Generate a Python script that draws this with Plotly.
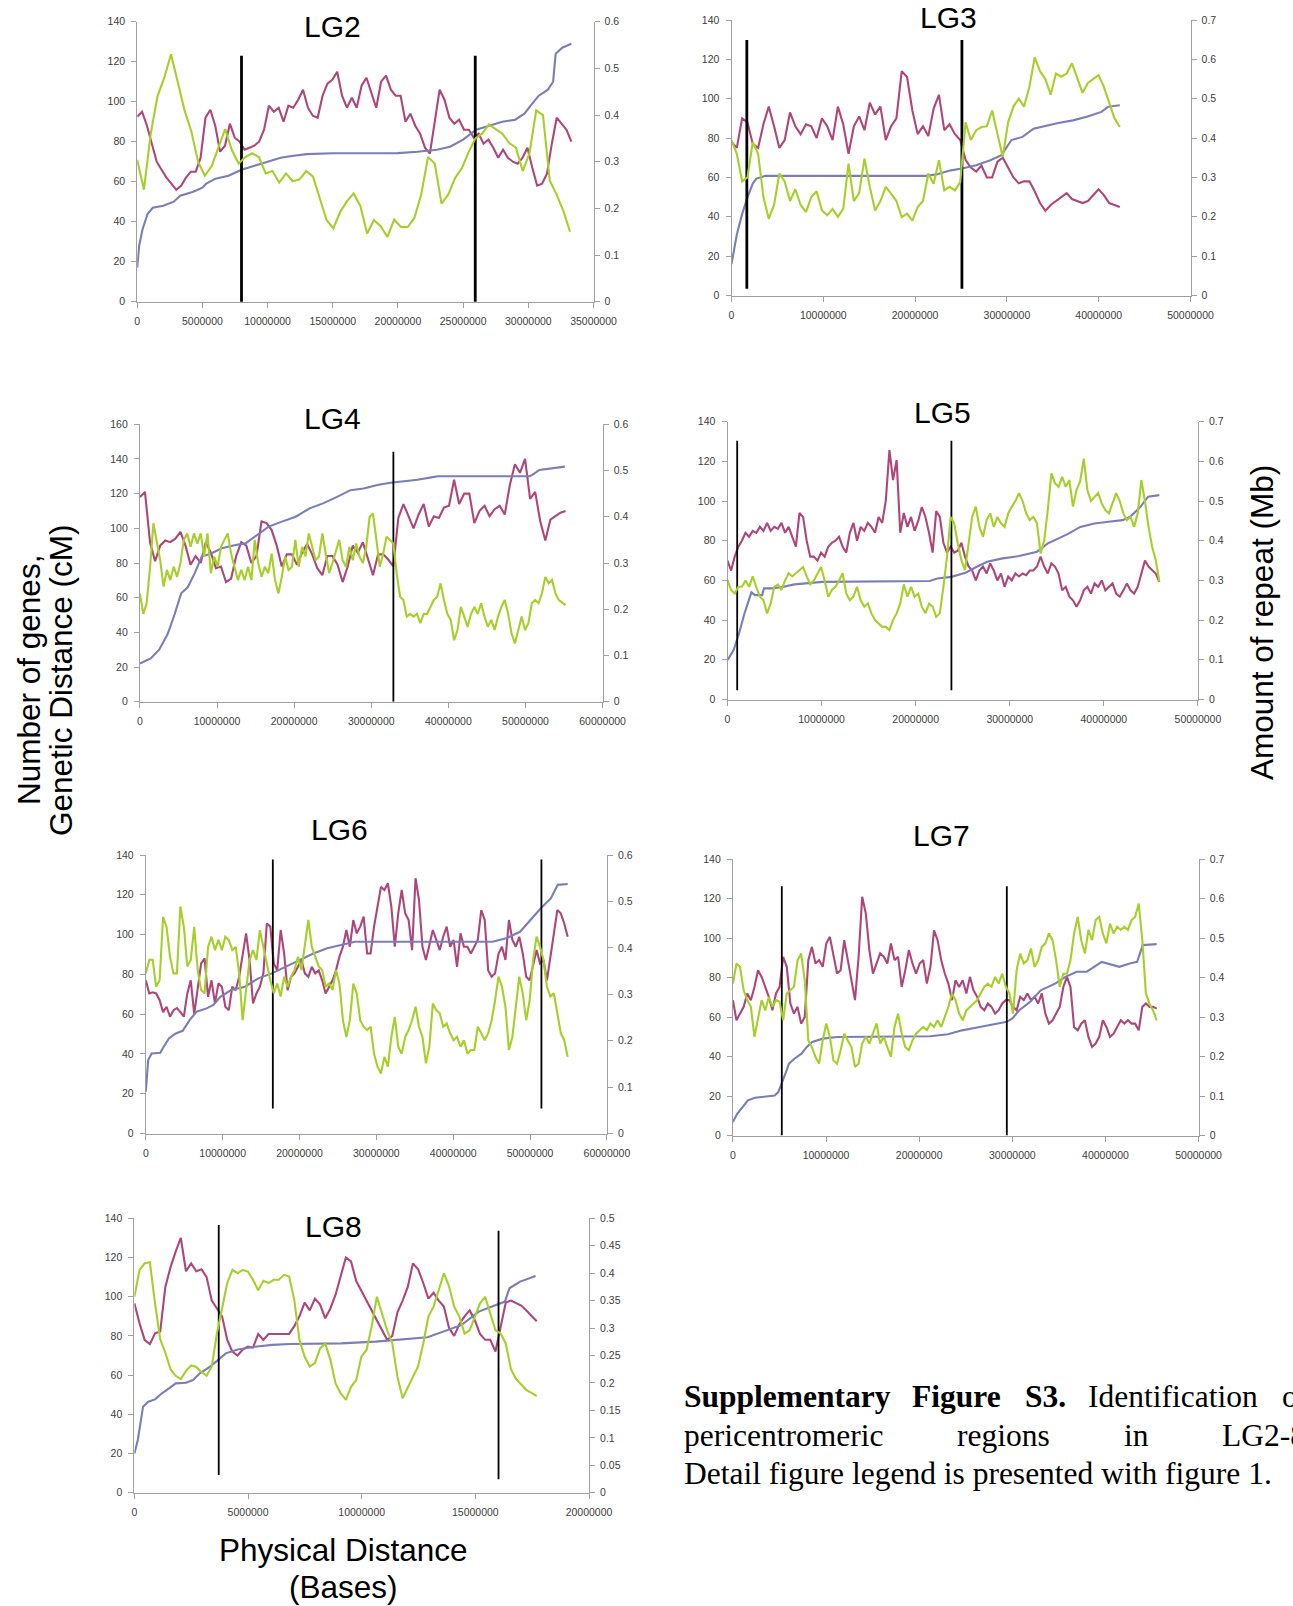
import numpy as np
import plotly.graph_objects as go

W, H = 1293, 1606

# ------------------------------------------------------------------ DATA
# Genetic distance (cM) vs physical position (Mb) - explicit pairs
LG2_GD_X = [0, 0.15, 0.4, 0.8, 1.2, 2, 2.8, 3.3, 4.3, 5, 5.3, 6, 7, 8, 9, 10, 11, 12, 13, 15, 20, 21.5, 23, 24, 25, 26, 27, 28, 29, 29.7, 30.3, 30.8, 31.5, 31.9, 32.1, 32.6, 33.3]
LG2_GD_Y = [17, 28, 36, 44, 47, 48, 50, 53, 55, 57, 59, 61.5, 63, 66, 68, 70, 72, 73, 73.8, 74.2, 74.3, 75, 76, 77.5, 81, 86, 88, 90, 91, 94, 99, 103, 106, 110, 124, 127, 129]
LG3_GD_X = [0, 0.58, 1.17, 1.75, 2.33, 2.72, 3.7, 21.2, 22.4, 23.9, 25.1, 26.65, 28.2, 29.4, 30.5, 31.7, 32.9, 34.0, 35.6, 37.2, 38.7, 40.3, 41.05, 42.3]
LG3_GD_Y = [16, 31, 41.6, 50, 57, 59.4, 60.8, 60.8, 61.6, 63.6, 64.5, 66.2, 68.7, 71.3, 79, 80.6, 84.8, 86, 87.7, 89, 90.8, 93.3, 95.9, 96.7]
LG4_GD_X = [0, 1.4, 2.5, 3.6, 4.47, 5.35, 6.2, 7.1, 8.0, 9.3, 10.6, 12.4, 13.7, 14.9, 16.7, 18.5, 20.2, 22.0, 23.75, 25.5, 27.3, 29.0, 30.8, 32.5, 34.3, 36.0, 37.8, 38.65, 50.5, 50.9, 51.8, 53.5, 55.1]
LG4_GD_Y = [22, 25, 30, 39, 50, 62.5, 66, 74, 83.6, 85.6, 88.5, 90.4, 91.3, 95, 101, 104, 106.7, 111.5, 114.4, 118, 122, 123, 125, 126.3, 127, 128, 129.4, 130, 130, 130.8, 133.7, 134.6, 135.6]
LG5_GD_X = [0, 0.65, 1.21, 1.78, 2.54, 2.92, 3.68, 3.87, 4.82, 5.96, 7.1, 10.1, 21.5, 22.3, 23.8, 25.3, 26.5, 27.6, 29.1, 31.0, 32.9, 34.05, 35.2, 36.3, 37.5, 39.0, 40.5, 42.0, 42.8, 43.9, 44.7, 45.9]
LG5_GD_Y = [19.8, 24.9, 33, 43, 54, 52.6, 52.6, 56, 56, 56.8, 58, 59.3, 59.7, 61, 61.8, 63.9, 66.9, 69.4, 71, 72.3, 74.5, 78.7, 81.2, 83.7, 87, 88.7, 89.6, 90.4, 92.1, 97.1, 102.2, 103]
LG6_GD_X = [0, 0.31, 0.76, 1.88, 2.33, 3.0, 3.9, 4.8, 5.7, 6.6, 7.9, 8.8, 9.7, 11.1, 12.9, 14.65, 16.4, 18.2, 20.0, 21.8, 23.6, 25.4, 27.2, 45.1, 46.9, 48.7, 50.0, 51.4, 52.7, 53.6, 54.9]
LG6_GD_Y = [21, 36.9, 40.2, 40.6, 43.6, 47.8, 50.3, 51.6, 57, 61.2, 62.9, 64.6, 68.7, 72.1, 73.8, 78, 80.5, 83.8, 87.2, 90.5, 93.1, 94.7, 96.4, 96.4, 98.1, 101.4, 107.3, 113.2, 118.2, 125, 125.4]
LG7_GD_X = [0, 0.46, 1.04, 1.61, 2.38, 3.53, 4.49, 4.87, 5.25, 5.64, 6.02, 6.6, 7.36, 7.94, 8.51, 9.66, 11.2, 21.2, 23.1, 24.6, 26.5, 28.1, 29.4, 30.0, 30.75, 31.9, 33.05, 34.6, 35.7, 36.9, 38.0, 39.6, 40.3, 41.5, 42.6, 43.4, 44.0, 45.5]
LG7_GD_Y = [6.8, 11, 14.4, 17.8, 19.1, 19.8, 20.3, 22, 26.2, 31.3, 36.4, 38.9, 41.5, 44.9, 47.4, 49.1, 49.9, 50.3, 51.3, 53.3, 55, 56.4, 57.6, 59.3, 63.5, 67.7, 73.6, 77, 80.4, 83, 83, 88, 87.2, 85.5, 87.2, 88, 96.5, 97]
LG8_GD_X = [0, 0.15, 0.38, 0.61, 0.91, 1.21, 1.52, 1.82, 2.27, 2.58, 2.88, 3.33, 3.71, 4.02, 4.55, 5.3, 6.06, 6.82, 9.09, 10.6, 12.9, 13.6, 14.4, 15.15, 15.9, 16.3, 16.5, 16.97, 17.65]
LG8_GD_Y = [20, 26.9, 43.9, 46.4, 47.6, 50.7, 53.2, 55.8, 56.1, 57.5, 60.9, 64.3, 68, 71.1, 73.1, 74.5, 75.4, 75.9, 76.2, 77.1, 79.3, 82.2, 85.6, 92.4, 95.8, 97.5, 104.3, 107.7, 110.6]

# Number of genes (left axis), regularly spaced windows from 0 to *_END Mb
LG2_GENES = [92.5, 95, 88, 79, 70, 66, 62, 59, 56, 58, 62, 65, 65, 72, 92, 96, 88, 75, 78, 89, 82, 80, 76, 77, 78, 80, 86, 98, 95, 97, 90, 98, 97, 101, 106, 97, 93, 92, 103, 109, 111, 115, 103, 97, 102, 97, 108, 112, 104, 97, 110, 113, 106, 103, 103, 90, 94, 88, 84, 77, 74, 91, 106, 101, 92, 89, 91, 86, 86, 82, 84, 79, 81, 77, 72, 76, 72, 70, 69, 72, 77, 67, 58, 59, 64, 79, 92, 89, 86, 80]
LG2_GENES_END = 33.3
LG3_GENES = [78, 75, 90, 88, 77, 75, 87, 96, 86, 75, 79, 93, 86, 82, 87, 86, 80, 90, 86, 79, 96, 87, 72, 86, 91, 84, 98, 92, 96, 79, 86, 90, 114, 111, 94, 82, 86, 81, 95, 102, 84, 87, 82, 79, 69, 65, 63, 66, 60, 60, 68, 70, 65, 60, 57, 58, 58, 53, 47, 43, 46, 48, 50, 52, 49, 48, 47, 48, 51, 54, 51, 47, 46, 45]
LG3_GENES_END = 42.3
LG4_GENES = [118, 121, 92, 81, 90, 93, 92, 94, 98, 90, 79, 84, 80, 92, 86, 77, 78, 69, 71, 84, 92, 90, 80, 84, 104, 103, 99, 90, 78, 85, 85, 79, 86, 91, 85, 77, 73, 84, 84, 79, 69, 78, 90, 86, 92, 82, 73, 85, 85, 82, 78, 106, 114, 107, 100, 108, 114, 101, 107, 106, 112, 113, 128, 114, 120, 120, 103, 110, 113, 107, 111, 113, 108, 125, 137, 132, 140, 117, 121, 104, 93, 105, 107, 109, 110]
LG4_GENES_END = 55.2
LG5_GENES = [70, 65, 72, 77, 80, 84, 82, 85, 84, 87, 85, 89, 85, 87, 86, 89, 84, 87, 82, 77, 94, 92, 80, 72, 72, 70, 74, 72, 77, 79, 80, 82, 77, 74, 84, 89, 80, 87, 85, 89, 87, 84, 92, 89, 100.5, 125.7, 110.6, 120.7, 84, 94, 87, 92, 85, 90, 97, 92, 84, 74, 95, 92, 79, 74, 77, 74, 75, 79, 72, 67, 65, 60, 65, 67, 63.5, 68.6, 65, 60, 63.5, 56.8, 62, 60, 63.5, 62, 63.5, 62.7, 65, 65, 67, 72, 67, 63.5, 68.6, 67, 63.5, 55, 56.8, 51.8, 50, 46.7, 50, 55, 56.8, 53.4, 58.5, 56.8, 60, 55, 56.8, 58.5, 53.4, 51.8, 55, 58.5, 55, 53.4, 56.8, 63.5, 70, 67, 65, 63.5, 59.3]
LG5_GENES_END = 45.9
LG6_GENES = [77, 70.4, 71, 70.4, 67, 61, 63.7, 58.7, 62, 63, 61, 58.7, 70.4, 77, 60, 72, 85.5, 88, 68.7, 77, 65.4, 75.5, 73.8, 63.7, 62, 73.8, 72, 78.8, 90.5, 100.6, 87.2, 65.4, 70.4, 73.8, 80.5, 105.6, 104, 85.5, 82, 102.3, 90.5, 72, 78.8, 80.5, 83.8, 87.2, 80.5, 78.8, 83.8, 80.5, 82, 77, 70.4, 73.8, 77, 82, 88.9, 93.9, 102.3, 93.9, 107.3, 100.6, 104, 109, 90.5, 90.5, 104, 114, 124, 122.4, 125.8, 114, 93.9, 110.7, 122.4, 110.7, 107.3, 92.2, 128.3, 117.4, 93.9, 87.2, 95.6, 102.3, 97.3, 92.2, 98.9, 104, 93.9, 97.3, 83.8, 100.6, 93.9, 93.9, 90.5, 93.9, 97.3, 112.3, 107.3, 82, 78.8, 80.5, 90.5, 93.9, 87.2, 107.3, 97.3, 93.9, 98.9, 90.5, 78.8, 77, 85.5, 92.2, 85.5, 87.2, 77, 88.9, 102.3, 112.3, 110.7, 105.6, 98.9]
LG6_GENES_END = 54.9
LG7_GENES = [68.6, 58.4, 61.8, 65.2, 72, 68.6, 75.3, 83.8, 80.4, 75.3, 70.3, 63.5, 72, 75.3, 90.6, 85.5, 66.9, 61.8, 65.2, 56.7, 60, 88.9, 95.6, 87.2, 88.9, 85.5, 97.3, 100.7, 92.3, 82.1, 83.8, 99, 88.9, 78.7, 68.6, 90.6, 121, 112.6, 94, 82.1, 87.2, 92.3, 90.6, 87.2, 97.3, 88.9, 90.6, 75.3, 83.8, 94, 87.2, 82.1, 87.2, 88.9, 77, 85.5, 104, 99, 88.9, 82.1, 77, 68.6, 78.7, 75.3, 78.7, 72, 80.4, 73.6, 70.3, 65.2, 63.5, 66.9, 65.2, 61.8, 63.5, 66.9, 68.6, 68.6, 65.2, 63.5, 70.3, 68.6, 72, 68.6, 70.3, 66.9, 72, 61.8, 56.7, 58.4, 61.8, 65.2, 75.3, 80.4, 75.3, 55, 53.3, 56.7, 58.4, 50, 44.9, 46.6, 50, 58.4, 55, 50, 51.6, 55, 58.4, 56.7, 58.4, 56.7, 56.7, 53.3, 65.2, 66.9, 65.2, 65.2, 64.3]
LG7_GENES_END = 45.5
LG8_GENES = [96.6, 86.4, 77.9, 75.8, 81.3, 82.2, 105, 115, 123, 130, 113, 117, 113, 114, 110, 98, 94, 90, 78, 72, 70, 73, 74.5, 74, 81, 78, 81, 81, 81, 81, 81, 85, 90, 97, 93, 99, 96, 89, 94, 101, 110, 120, 118, 108, 103, 98, 93, 88, 83, 78, 80, 92, 98, 105, 117, 114, 107, 99, 102, 98, 95, 84, 80, 86, 90, 93, 88, 81, 78, 78, 72, 84, 97, 98, 96.6, 95.5, 93, 90, 87.5]
LG8_GENES_END = 17.7

# Amount of repeat (Mb, right axis), regularly spaced windows from 0 to *_END Mb
LG2_REPEAT = [0.304, 0.24, 0.36, 0.44, 0.48, 0.53, 0.47, 0.41, 0.365, 0.30, 0.27, 0.29, 0.33, 0.37, 0.325, 0.296, 0.31, 0.318, 0.31, 0.275, 0.28, 0.255, 0.275, 0.258, 0.262, 0.28, 0.268, 0.22, 0.175, 0.157, 0.192, 0.215, 0.232, 0.205, 0.146, 0.175, 0.162, 0.139, 0.176, 0.16, 0.16, 0.18, 0.23, 0.31, 0.296, 0.21, 0.23, 0.265, 0.286, 0.32, 0.35, 0.36, 0.38, 0.37, 0.36, 0.34, 0.33, 0.28, 0.318, 0.41, 0.40, 0.26, 0.23, 0.195, 0.15]
LG2_REPEAT_END = 33.2
LG3_REPEAT = [0.395, 0.36, 0.29, 0.30, 0.39, 0.36, 0.25, 0.195, 0.23, 0.31, 0.29, 0.24, 0.27, 0.23, 0.212, 0.25, 0.265, 0.216, 0.204, 0.22, 0.20, 0.22, 0.335, 0.24, 0.26, 0.348, 0.276, 0.216, 0.24, 0.276, 0.259, 0.24, 0.199, 0.208, 0.19, 0.225, 0.24, 0.31, 0.284, 0.344, 0.267, 0.276, 0.267, 0.288, 0.44, 0.395, 0.42, 0.428, 0.43, 0.47, 0.41, 0.352, 0.44, 0.48, 0.50, 0.48, 0.53, 0.605, 0.57, 0.55, 0.51, 0.564, 0.556, 0.564, 0.59, 0.55, 0.515, 0.54, 0.55, 0.56, 0.53, 0.49, 0.45, 0.428]
LG3_REPEAT_END = 42.3
LG4_REPEAT = [0.234, 0.19, 0.213, 0.29, 0.386, 0.35, 0.306, 0.249, 0.285, 0.263, 0.292, 0.27, 0.30, 0.35, 0.364, 0.335, 0.364, 0.342, 0.364, 0.314, 0.364, 0.278, 0.314, 0.292, 0.335, 0.35, 0.364, 0.32, 0.292, 0.263, 0.285, 0.263, 0.292, 0.263, 0.35, 0.30, 0.27, 0.292, 0.278, 0.32, 0.263, 0.234, 0.27, 0.314, 0.285, 0.292, 0.35, 0.292, 0.335, 0.314, 0.364, 0.335, 0.306, 0.314, 0.364, 0.32, 0.278, 0.30, 0.328, 0.35, 0.306, 0.292, 0.335, 0.306, 0.342, 0.314, 0.30, 0.335, 0.40, 0.407, 0.35, 0.292, 0.32, 0.357, 0.35, 0.342, 0.278, 0.227, 0.22, 0.184, 0.19, 0.184, 0.19, 0.17, 0.19, 0.19, 0.205, 0.22, 0.227, 0.256, 0.22, 0.19, 0.177, 0.133, 0.155, 0.205, 0.184, 0.162, 0.19, 0.205, 0.19, 0.213, 0.184, 0.162, 0.177, 0.155, 0.184, 0.205, 0.22, 0.19, 0.148, 0.126, 0.155, 0.184, 0.155, 0.17, 0.213, 0.22, 0.213, 0.234, 0.27, 0.256, 0.263, 0.234, 0.22, 0.215, 0.209]
LG4_REPEAT_END = 55.2
LG5_REPEAT = [0.30, 0.276, 0.267, 0.284, 0.284, 0.30, 0.284, 0.31, 0.284, 0.259, 0.25, 0.217, 0.242, 0.284, 0.29, 0.276, 0.30, 0.318, 0.31, 0.318, 0.326, 0.334, 0.31, 0.29, 0.30, 0.318, 0.334, 0.30, 0.259, 0.276, 0.284, 0.30, 0.318, 0.267, 0.25, 0.259, 0.284, 0.25, 0.234, 0.242, 0.217, 0.20, 0.192, 0.183, 0.183, 0.175, 0.20, 0.217, 0.242, 0.29, 0.259, 0.284, 0.259, 0.267, 0.234, 0.217, 0.242, 0.234, 0.208, 0.217, 0.284, 0.36, 0.46, 0.444, 0.393, 0.351, 0.326, 0.40, 0.46, 0.486, 0.435, 0.41, 0.452, 0.469, 0.435, 0.46, 0.444, 0.435, 0.469, 0.486, 0.50, 0.52, 0.50, 0.469, 0.452, 0.46, 0.444, 0.368, 0.40, 0.477, 0.57, 0.545, 0.536, 0.561, 0.536, 0.553, 0.486, 0.528, 0.55, 0.607, 0.528, 0.50, 0.511, 0.52, 0.494, 0.477, 0.469, 0.494, 0.52, 0.50, 0.469, 0.452, 0.46, 0.435, 0.469, 0.553, 0.50, 0.435, 0.385, 0.351, 0.297]
LG5_REPEAT_END = 45.9
LG6_REPEAT = [0.345, 0.374, 0.374, 0.316, 0.33, 0.467, 0.445, 0.381, 0.345, 0.345, 0.489, 0.445, 0.36, 0.374, 0.445, 0.352, 0.309, 0.302, 0.402, 0.424, 0.395, 0.417, 0.395, 0.424, 0.417, 0.395, 0.402, 0.345, 0.244, 0.316, 0.374, 0.395, 0.374, 0.438, 0.402, 0.366, 0.33, 0.302, 0.323, 0.295, 0.338, 0.316, 0.338, 0.352, 0.381, 0.352, 0.402, 0.46, 0.402, 0.381, 0.36, 0.352, 0.316, 0.323, 0.309, 0.352, 0.323, 0.244, 0.208, 0.244, 0.323, 0.302, 0.244, 0.23, 0.223, 0.23, 0.172, 0.144, 0.129, 0.165, 0.144, 0.208, 0.251, 0.187, 0.172, 0.208, 0.223, 0.244, 0.273, 0.23, 0.208, 0.151, 0.187, 0.28, 0.266, 0.259, 0.23, 0.237, 0.216, 0.201, 0.208, 0.187, 0.201, 0.172, 0.18, 0.18, 0.23, 0.216, 0.201, 0.216, 0.244, 0.287, 0.338, 0.316, 0.273, 0.18, 0.208, 0.273, 0.338, 0.302, 0.244, 0.287, 0.374, 0.424, 0.402, 0.374, 0.316, 0.295, 0.302, 0.259, 0.216, 0.201, 0.165]
LG6_REPEAT_END = 54.9
LG7_REPEAT = [0.385, 0.436, 0.427, 0.368, 0.343, 0.326, 0.25, 0.30, 0.343, 0.317, 0.351, 0.326, 0.343, 0.339, 0.292, 0.36, 0.368, 0.377, 0.444, 0.461, 0.394, 0.241, 0.224, 0.199, 0.182, 0.241, 0.284, 0.25, 0.19, 0.182, 0.216, 0.258, 0.241, 0.224, 0.174, 0.182, 0.233, 0.25, 0.233, 0.258, 0.284, 0.233, 0.25, 0.224, 0.199, 0.275, 0.309, 0.258, 0.224, 0.216, 0.241, 0.258, 0.267, 0.275, 0.267, 0.284, 0.275, 0.292, 0.275, 0.30, 0.326, 0.36, 0.343, 0.309, 0.292, 0.317, 0.326, 0.334, 0.343, 0.36, 0.377, 0.385, 0.377, 0.402, 0.385, 0.41, 0.377, 0.36, 0.309, 0.419, 0.461, 0.436, 0.444, 0.474, 0.427, 0.444, 0.478, 0.487, 0.512, 0.495, 0.444, 0.377, 0.41, 0.41, 0.444, 0.512, 0.554, 0.495, 0.461, 0.521, 0.495, 0.546, 0.554, 0.512, 0.487, 0.537, 0.512, 0.529, 0.521, 0.529, 0.521, 0.546, 0.554, 0.588, 0.495, 0.36, 0.334, 0.317, 0.292]
LG7_REPEAT_END = 45.5
LG8_REPEAT = [0.357, 0.406, 0.418, 0.42, 0.345, 0.28, 0.255, 0.225, 0.213, 0.207, 0.222, 0.232, 0.229, 0.22, 0.213, 0.23, 0.29, 0.333, 0.382, 0.406, 0.40, 0.406, 0.403, 0.388, 0.369, 0.386, 0.382, 0.388, 0.388, 0.397, 0.394, 0.351, 0.278, 0.248, 0.23, 0.236, 0.263, 0.272, 0.242, 0.199, 0.181, 0.169, 0.193, 0.205, 0.248, 0.26, 0.303, 0.357, 0.327, 0.296, 0.272, 0.211, 0.172, 0.193, 0.211, 0.23, 0.272, 0.321, 0.339, 0.369, 0.40, 0.376, 0.339, 0.321, 0.29, 0.296, 0.321, 0.345, 0.357, 0.327, 0.296, 0.29, 0.272, 0.225, 0.207, 0.197, 0.187, 0.182, 0.176]
LG8_REPEAT_END = 17.7

# Pericentromeric boundaries (Mb) and the vertical extent of the marker lines (left-axis units)
LG2_BOUNDS = [8.0, 25.93]
LG2_BOUND_Y = [[-1, 123], [-1, 123]]
LG3_BOUNDS = [1.67, 25.1]
LG3_BOUND_Y = [[3.4, 129.8], [3.4, 129.8]]
LG4_BOUNDS = [32.87]
LG4_BOUND_Y = [[0, 144.2]]
LG5_BOUNDS = [1.03, 23.8]
LG5_BOUND_Y = [[4.7, 130.4], [4.7, 130.4]]
LG6_BOUNDS = [16.53, 51.48]
LG6_BOUND_Y = [[12.6, 137.8], [12.6, 137.8]]
LG7_BOUNDS = [5.25, 29.41]
LG7_BOUND_Y = [[0, 126.4], [0, 126.4]]
LG8_BOUNDS = [3.71, 16.02]
LG8_BOUND_Y = [[9, 136.6], [6.8, 133.7]]

PANEL_NAMES = ["LG2", "LG3", "LG4", "LG5", "LG6", "LG7", "LG8"]
CAPTION_L1 = ["Supplementary", "Figure", "S3.", "Identification", "of"]
CAPTION_L1_BOLD = [True, True, True, False, False]
CAPTION_L2 = ["pericentromeric", "regions", "in", "LG2-8"]
CAPTION_L3 = ["Detail figure legend is presented with figure 1."]
Y_LABEL_LEFT = ["Number of genes,", "Genetic Distance (cM)"]
Y_LABEL_RIGHT = "Amount of repeat (Mb)"
X_LABEL = ["Physical Distance", "(Bases)"]

# ------------------------------------------------------------------ LAYOUT / STYLE
C_GD = "#7B7DB8"
C_GENES = "#AE4679"
C_REP = "#A6CF2A"
AX = "#A0A0A0"
TICKFONT = dict(family="Liberation Sans, Arial, sans-serif", size=10.5, color="#404040")

panels = [
    dict(name=PANEL_NAMES[0], gd=(LG2_GD_X, LG2_GD_Y), genes=(LG2_GENES, LG2_GENES_END), rep=(LG2_REPEAT, LG2_REPEAT_END),
         bounds=(LG2_BOUNDS, LG2_BOUND_Y), xmax=35e6, dx=5e6, ymax=140, rmax=0.6, dr=0.1,
         box=(137.2, 593.5, 21.7, 301.7), title=(333, 27), bw=2.8),
    dict(name=PANEL_NAMES[1], gd=(LG3_GD_X, LG3_GD_Y), genes=(LG3_GENES, LG3_GENES_END), rep=(LG3_REPEAT, LG3_REPEAT_END),
         bounds=(LG3_BOUNDS, LG3_BOUND_Y), xmax=50e6, dx=10e6, ymax=140, rmax=0.7, dr=0.1,
         box=(731.5, 1190.5, 20, 295.5), title=(948, 17), bw=2.8),
    dict(name=PANEL_NAMES[2], gd=(LG4_GD_X, LG4_GD_Y), genes=(LG4_GENES, LG4_GENES_END), rep=(LG4_REPEAT, LG4_REPEAT_END),
         bounds=(LG4_BOUNDS, LG4_BOUND_Y), xmax=60e6, dx=10e6, ymax=160, rmax=0.6, dr=0.1,
         box=(139.9, 602.6, 424.3, 701.7), title=(333, 419), bw=1.8),
    dict(name=PANEL_NAMES[3], gd=(LG5_GD_X, LG5_GD_Y), genes=(LG5_GENES, LG5_GENES_END), rep=(LG5_REPEAT, LG5_REPEAT_END),
         bounds=(LG5_BOUNDS, LG5_BOUND_Y), xmax=50e6, dx=10e6, ymax=140, rmax=0.7, dr=0.1,
         box=(727.5, 1197.9, 421.7, 699.5), title=(942.5, 412), bw=1.8),
    dict(name=PANEL_NAMES[4], gd=(LG6_GD_X, LG6_GD_Y), genes=(LG6_GENES, LG6_GENES_END), rep=(LG6_REPEAT, LG6_REPEAT_END),
         bounds=(LG6_BOUNDS, LG6_BOUND_Y), xmax=60e6, dx=10e6, ymax=140, rmax=0.6, dr=0.1,
         box=(145.8, 606.9, 855, 1133.5), title=(339, 830), bw=1.8),
    dict(name=PANEL_NAMES[5], gd=(LG7_GD_X, LG7_GD_Y), genes=(LG7_GENES, LG7_GENES_END), rep=(LG7_REPEAT, LG7_REPEAT_END),
         bounds=(LG7_BOUNDS, LG7_BOUND_Y), xmax=50e6, dx=10e6, ymax=140, rmax=0.7, dr=0.1,
         box=(732.9, 1198.6, 859.3, 1135.5), title=(941, 835), bw=1.8),
    dict(name=PANEL_NAMES[6], gd=(LG8_GD_X, LG8_GD_Y), genes=(LG8_GENES, LG8_GENES_END), rep=(LG8_REPEAT, LG8_REPEAT_END),
         bounds=(LG8_BOUNDS, LG8_BOUND_Y), xmax=20e6, dx=5e6, ymax=140, rmax=0.5, dr=0.05,
         box=(134.4, 589.0, 1218.3, 1492.7), title=(333.5, 1226.5), bw=1.8),
]

MB = 1e6
fig = go.Figure()
layout = dict(width=W, height=H, autosize=False, margin=dict(l=0, r=0, t=0, b=0, pad=0),
              paper_bgcolor="white", plot_bgcolor="rgba(0,0,0,0)", showlegend=False)
annotations = []


def px_x(p):
    return p / W


def px_y(p):
    return 1 - p / H


for k, p in enumerate(panels, start=1):
    xa = f"x{k}" if k > 1 else "x"
    yl = f"y{2*k-1}" if (2 * k - 1) > 1 else "y"
    yr = f"y{2*k}"
    xkey = "xaxis" if k == 1 else f"xaxis{k}"
    ylkey = "yaxis" if (2 * k - 1) == 1 else f"yaxis{2*k-1}"
    yrkey = f"yaxis{2*k}"
    x0, x1, ytop, ybot = p["box"]
    xdom = [px_x(x0), px_x(x1)]
    ydom = [px_y(ybot), px_y(ytop)]
    common = dict(showline=True, linecolor=AX, linewidth=1, ticks="outside", ticklen=5,
                  tickcolor=AX, tickwidth=1, showgrid=False, zeroline=False, tickfont=TICKFONT,
                  fixedrange=True, automargin=False)
    layout[xkey] = dict(domain=xdom, anchor=yl, range=[0, p["xmax"]], tick0=0, dtick=p["dx"],
                        tickformat="d", ticklabelstandoff=5, **common)
    layout[ylkey] = dict(domain=ydom, anchor=xa, range=[0, p["ymax"]], tick0=0, dtick=20,
                         ticklabelstandoff=4, **common)
    layout[yrkey] = dict(domain=ydom, anchor=xa, overlaying=yl, side="right",
                         range=[0, p["rmax"]], tick0=0, dtick=p["dr"], tickformat="~g",
                         ticklabelstandoff=3, **common)

    gvals, gend = p["genes"]
    fig.add_trace(go.Scatter(x=np.linspace(0, gend, len(gvals)) * MB, y=gvals, mode="lines",
                             line=dict(color=C_GENES, width=2.1), xaxis=xa, yaxis=yl, hoverinfo="skip"))
    gx, gy = p["gd"]
    fig.add_trace(go.Scatter(x=np.array(gx) * MB, y=gy, mode="lines",
                             line=dict(color=C_GD, width=2.1), xaxis=xa, yaxis=yl, hoverinfo="skip"))
    rvals, rend = p["rep"]
    fig.add_trace(go.Scatter(x=np.linspace(0, rend, len(rvals)) * MB, y=rvals, mode="lines",
                             line=dict(color=C_REP, width=2.1), xaxis=xa, yaxis=yr, hoverinfo="skip"))
    bxs, bys = p["bounds"]
    for bx, by in zip(bxs, bys):
        fig.add_trace(go.Scatter(x=[bx * MB, bx * MB], y=by, mode="lines", cliponaxis=False,
                                 line=dict(color="black", width=p["bw"]), xaxis=xa, yaxis=yl,
                                 hoverinfo="skip"))
    tx, ty = p["title"]
    annotations.append(dict(text=p["name"], x=px_x(tx), y=px_y(ty), xref="paper", yref="paper",
                            xanchor="center", yanchor="middle", showarrow=False,
                            font=dict(family="Liberation Sans, Arial, sans-serif", size=30, color="black")))

SANS = dict(family="Liberation Sans, Arial, sans-serif", size=31.5, color="black")
# left rotated label (two lines)
for text, cx in zip(Y_LABEL_LEFT, [29, 61]):
    annotations.append(dict(text=text, x=px_x(cx), y=px_y(680), xref="paper", yref="paper",
                            xanchor="center", yanchor="middle", textangle=-90, showarrow=False, font=SANS))
annotations.append(dict(text=Y_LABEL_RIGHT, x=px_x(1262), y=px_y(623), xref="paper", yref="paper",
                        xanchor="center", yanchor="middle", textangle=-90, showarrow=False, font=SANS))
for text, cy in zip(X_LABEL, [1550, 1587]):
    annotations.append(dict(text=text, x=px_x(343), y=px_y(cy), xref="paper", yref="paper",
                            xanchor="center", yanchor="middle", showarrow=False, font=SANS))

SERIF = dict(family="Liberation Serif, Times New Roman, serif", size=31.5, color="black")
l1_x = [681.7, 910, 1023, 1085.5, 1280]
for w, b, xx in zip(CAPTION_L1, CAPTION_L1_BOLD, l1_x):
    annotations.append(dict(text=f"<b>{w}</b>" if b else w, x=px_x(xx), y=px_y(1396.5), xref="paper",
                            yref="paper", xanchor="left", yanchor="middle", showarrow=False, font=SERIF))
l2_x = [681.7, 955, 1121.5, 1219.5]
for w, xx in zip(CAPTION_L2, l2_x):
    annotations.append(dict(text=w, x=px_x(xx), y=px_y(1435), xref="paper", yref="paper",
                            xanchor="left", yanchor="middle", showarrow=False, font=SERIF))
annotations.append(dict(text=CAPTION_L3[0], x=px_x(681.7), y=px_y(1473), xref="paper", yref="paper",
                        xanchor="left", yanchor="middle", showarrow=False, font=SERIF))

layout["annotations"] = annotations
fig.update_layout(**layout)

# keep the page exactly the size of the figure (no body margin, clip the caption at the page edge)
PAGE_FIX = ("var s=document.documentElement.style;s.margin='0';s.padding='0';s.overflow='hidden';"
            "var b=document.body.style;b.margin='0';b.padding='0';b.overflow='hidden';")
fig.write_html("out.html", config=dict(displayModeBar=False), post_script=PAGE_FIX)
